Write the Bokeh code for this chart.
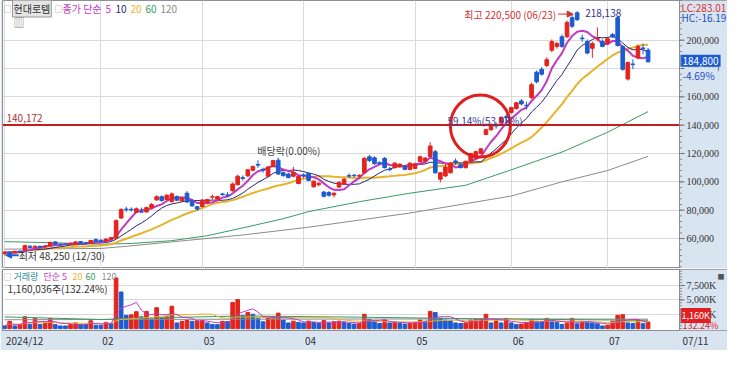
import pandas as pd
from bokeh.plotting import figure
from bokeh.layouts import column
from bokeh.models import (Range1d, FixedTicker, Span, Label, LabelSet, Arrow, NormalHead, Grid,
                          BoxAnnotation, ColumnDataSource)
from bokeh.embed import file_html
from bokeh.resources import INLINE

# ---------------- data ----------------
dates = ["12/30",
         "01/02", "01/03", "01/06", "01/07", "01/08", "01/09", "01/10", "01/13", "01/14", "01/15",
         "01/16", "01/17", "01/20", "01/21", "01/22", "01/23", "01/24", "01/31",
         "02/03", "02/04", "02/05", "02/06", "02/07", "02/10", "02/11", "02/12", "02/13", "02/14",
         "02/17", "02/18", "02/19", "02/20", "02/21", "02/24", "02/25", "02/26", "02/27", "02/28",
         "03/04", "03/05", "03/06", "03/07", "03/10", "03/11", "03/12", "03/13", "03/14", "03/17",
         "03/18", "03/19", "03/20", "03/21", "03/24", "03/25", "03/26", "03/27", "03/28", "03/31",
         "04/01", "04/02", "04/03", "04/04", "04/07", "04/08", "04/09", "04/10", "04/11", "04/14",
         "04/15", "04/16", "04/17", "04/18", "04/21", "04/22", "04/23", "04/24", "04/25", "04/28",
         "04/29", "04/30",
         "05/02", "05/07", "05/08", "05/09", "05/12", "05/13", "05/14", "05/15", "05/16", "05/19",
         "05/20", "05/21", "05/22", "05/23", "05/26", "05/27", "05/28", "05/29", "05/30",
         "06/02", "06/04", "06/05", "06/09", "06/10", "06/11", "06/12", "06/13", "06/16", "06/17",
         "06/18", "06/19", "06/20", "06/23", "06/24", "06/25", "06/26", "06/27", "06/30",
         "07/01", "07/02", "07/03", "07/04", "07/07", "07/08", "07/09", "07/10", "07/11"]

open_ = [49300, 50500, 49800, 51000, 51900, 54600, 53500, 54500, 54000, 54900, 57600, 56000, 56000, 55900, 55800, 57800, 57000, 56600, 59300,
         58800, 58200, 59400, 60300, 74500, 80800, 80600, 78500, 79000, 78800, 81800, 87300, 89500, 87500, 86000, 89500, 86500, 92000, 86500, 82500,
         82500, 85500, 89200, 87800, 91500, 90800, 93800, 98000, 103000, 104200, 108200, 112300, 108800, 104000, 110800, 115300, 106500, 105500, 104000, 98800,
         104800, 106000, 96500, 98000, 92800, 92500, 90800, 96300, 98500, 104500, 104700, 104000, 106400, 117700, 117000, 113500, 116600, 109000, 110000, 110500, 111000, 108700,
         109500, 114300, 114500, 117900, 121300, 101900, 104200, 106400, 114800, 112000, 110000, 114500, 116600, 120000, 133400, 136800, 140000, 141500, 146000,
         149000, 151700, 157100, 154000, 159500, 177400, 179400, 182100, 192900, 195600, 202400, 202400, 215900, 219300, 201500, 199000, 194300, 200800, 199000,
         197600, 204000, 215900, 195600, 172600, 183200, 187500, 194500, 193000]

high = [50800, 51000, 51300, 51800, 55600, 55200, 55000, 55000, 55200, 57800, 58200, 56500, 56600, 57000, 58200, 58300, 57600, 59000, 60000,
        59500, 60000, 61200, 73500, 81500, 82500, 82000, 82000, 81800, 82500, 85000, 90500, 90500, 91500, 92500, 90500, 89500, 93500, 87500, 83000,
        87800, 88000, 91000, 90000, 92300, 92800, 99500, 105000, 104500, 109000, 111500, 115200, 110000, 111000, 115500, 117000, 107500, 106500, 110500, 104500,
        106000, 106500, 101000, 99800, 93500, 93500, 92600, 100500, 102800, 106000, 105500, 105500, 117500, 119000, 118000, 114500, 117500, 110500, 113800, 113000, 112000, 113800,
        113500, 118500, 117500, 128000, 122500, 107000, 112500, 114000, 116500, 113000, 115000, 120500, 122000, 124000, 137500, 141000, 142000, 146000, 148000,
        153000, 156500, 158500, 156500, 170000, 178500, 181000, 188000, 200500, 199000, 204000, 214000, 217900, 220500, 204000, 200500, 199000, 209000, 200500,
        202000, 205000, 216500, 196500, 185000, 186500, 197000, 197500, 194500]

low = [48250, 49200, 49500, 50200, 51500, 53200, 53000, 53600, 53800, 54600, 55600, 55300, 55400, 55700, 55500, 56300, 56200, 56300, 57800,
       57500, 57900, 59000, 60000, 73800, 78800, 79000, 78000, 78500, 78300, 81000, 86500, 86000, 87000, 85500, 86500, 86000, 85000, 82500, 79500,
       82000, 84800, 87500, 87300, 90200, 89800, 93000, 97500, 101000, 103500, 107500, 110000, 106500, 103000, 110300, 104800, 103800, 102500, 103200, 98300,
       102500, 100500, 96000, 96800, 89000, 89500, 89000, 95800, 98000, 102800, 103200, 103000, 106000, 114000, 112000, 112000, 109500, 107500, 109500, 110000, 108200, 108200,
       109000, 113800, 113200, 117500, 105800, 99600, 103500, 106000, 112000, 109500, 109500, 114000, 116000, 119500, 133000, 136000, 137500, 140800, 142500,
       148000, 151000, 154000, 151000, 158500, 169500, 175000, 181000, 191500, 194000, 194500, 201500, 208500, 213500, 199000, 190000, 187500, 199500, 195000,
       196500, 201500, 195500, 178500, 171500, 179500, 186500, 190000, 184000]

close = [50300, 49600, 51000, 50600, 55000, 53600, 54600, 53900, 54800, 57300, 55900, 55700, 55800, 56600, 57600, 56600, 56500, 58600, 58100,
         58000, 59600, 60600, 72600, 80500, 80300, 80200, 81000, 78600, 81800, 84000, 89500, 86800, 90500, 91500, 87000, 88800, 85800, 83000, 80800,
         87000, 87500, 89500, 89600, 91000, 90300, 98500, 104000, 102400, 108500, 110800, 111800, 108200, 110500, 115000, 105500, 104300, 103000, 106500, 104000,
         104300, 101000, 100500, 99000, 89800, 90500, 92000, 99600, 101900, 104000, 104300, 104500, 116600, 115000, 112800, 113000, 110000, 108600, 113200, 112500, 108800, 113200,
         112800, 117700, 116800, 125300, 106400, 106400, 110500, 113200, 114300, 110000, 114500, 120000, 121300, 123300, 136800, 140200, 139400, 145600, 145500,
         152400, 155800, 155000, 153700, 168600, 170600, 176000, 186200, 199000, 197600, 195600, 212500, 209800, 214500, 201000, 190900, 197600, 201200, 195600,
         201000, 202400, 196300, 179400, 184200, 182800, 195600, 193900, 184800]

# volume in thousands of shares
volume_k = [480, 1270, 480, 740, 2060, 740, 1790, 740, 1000, 1790, 740, 480, 470, 740, 1000, 740, 700, 1370, 600,
            600, 1100, 850, 8810, 6380, 2320, 2400, 2950, 2060, 3000, 1690, 3640, 1790, 2060, 3900, 1000, 1270, 1530, 1270, 1370,
            1400, 1000, 740, 700, 1270, 1250, 4540, 5060, 2300, 2800, 2500, 1800, 1200, 2000, 2100, 2700, 1500, 1000, 1300, 1100,
            1000, 1300, 1100, 900, 1400, 1000, 1200, 1300, 1100, 900, 800, 900, 2500, 1600, 1300, 900, 1500, 1000, 1100, 900, 800, 1000,
            1100, 1500, 1300, 3000, 2800, 1800, 1500, 1400, 1000, 900, 1000, 1500, 1600, 1700, 2500, 1000, 1370, 1000, 1790,
            1000, 740, 800, 1000, 1530, 1270, 1250, 1790, 1270, 1110, 740, 1000, 1790, 840, 1270, 1110, 1000, 840, 475,
            580, 1270, 2320, 2430, 1000, 900, 1420, 877, 1160]

# long averages as drawn (they need history before the first candle)
ma60_at = [0, 10, 19, 25, 33, 40, 47, 55, 60, 70, 80, 91, 100, 110, 119, 127]
ma60_val = [57800, 57000, 56000, 56500, 58500, 62000, 67500, 74000, 79000, 86000, 92000, 97600, 108500, 121000, 135000, 149600]
ma120_at = [0, 19, 24, 47, 60, 80, 100, 110, 119, 127]
ma120_val = [52500, 53000, 54500, 62500, 68000, 78000, 90000, 100000, 108000, 118000]
vma60_at = [0, 19, 30, 47, 70, 95, 127]
vma60_val = [2050, 1600, 1900, 2200, 2000, 1700, 1450]
vma120_at = [0, 47, 95, 127]
vma120_val = [1550, 1650, 1700, 1650]

month_start_dates = ["12/30", "02/03", "03/04", "04/01", "05/02", "06/02", "07/01"]
month_labels = ["2024/12", "02", "03", "04", "05", "06", "07"]
last_date_label = "07/11"
price_ticks = [60000, 80000, 100000, 120000, 140000, 160000, 180000, 200000]
volume_ticks_k = [2500, 5000, 7500]
support_level = 140172
record_high_idx = dates.index("06/23")
record_low_idx = dates.index("12/30")
ex_dividend_idx = dates.index("03/27")
ex_dividend_note_level = 122000

# ---------------- styling ----------------
FONT = "Noto Sans CJK KR"
RED = "#e3241d"
BLUE = "#1d5bd1"
PANEL = "#d9e4f1"
GRID = "#dadada"
MAGENTA = "#c23ac2"
NAVY = "#262670"
GOLD = "#e6b42a"
GREEN = "#3a9a62"
GRAY = "#8c8c8c"
TXT = "#333333"
EDGE = "#8f8f8f"
BAR_W = 0.72

n = len(close)
idx = list(range(n))
month_idx = [dates.index(d) for d in month_start_dates]

W = 727
PANEL_W = 48
X0, XP = -0.42, 133.2
PX = (W - 2 - PANEL_W) / (XP - X0)      # pixels per trading day
X_END = XP + PANEL_W / PX
PY0, PY1 = 38850, 228000
VY0, VY1 = -316, 10283

s = pd.Series(close, dtype=float)
ma5 = s.rolling(5, min_periods=1).mean()
ma10 = s.rolling(10, min_periods=1).mean()
ma20 = s.rolling(20, min_periods=1).mean()

colors = [RED if c >= o else BLUE for o, c in zip(open_, close)]
src = ColumnDataSource(dict(x=idx, o=open_, h=high, l=low, c=close,
                            top=[max(o, c) for o, c in zip(open_, close)],
                            bot=[min(o, c) for o, c in zip(open_, close)],
                            color=colors))


def lab(fig, x, y, text, color, size="10px", **kw):
    fig.add_layout(Label(x=x, y=y, text=text, text_color=color, text_font=FONT,
                         text_font_size=size, text_baseline="middle", **kw))


def right_scale(fig, ticks, texts, minor, y0, y1):
    fig.add_layout(BoxAnnotation(left=XP, right=X_END, bottom=y0, top=y1,
                                 fill_color=PANEL, fill_alpha=1, line_alpha=0))
    fig.add_layout(Span(location=XP, dimension="height", line_color=EDGE, line_width=1))
    r1 = fig.segment(x0=[XP] * len(ticks), x1=[XP + 5 / PX] * len(ticks), y0=ticks, y1=ticks,
                     line_color="#666666", line_width=1)
    r2 = fig.segment(x0=[XP] * len(minor), x1=[XP + 2.5 / PX] * len(minor), y0=minor, y1=minor,
                     line_color="#888888", line_width=1)
    r1.level = "overlay"
    r2.level = "overlay"
    fig.add_layout(LabelSet(x="x", y="y", text="t", x_offset=7, text_baseline="middle",
                            text_font=FONT, text_font_size="10px", text_color=TXT,
                            source=ColumnDataSource(dict(x=[XP] * len(ticks), y=ticks, t=texts))))


# ---------------- price pane ----------------
p = figure(width=W, height=268, x_range=Range1d(X0, X_END), y_range=Range1d(PY0, PY1),
           x_axis_type=None, y_axis_type=None, output_backend="svg", toolbar_location=None,
           min_border_left=2, min_border_right=0, min_border_top=0, min_border_bottom=0,
           border_fill_color=PANEL, background_fill_color="white", outline_line_color=EDGE)
p.add_layout(Grid(dimension=1, ticker=FixedTicker(ticks=price_ticks), grid_line_color=GRID))
p.add_layout(Grid(dimension=0, ticker=FixedTicker(ticks=month_idx), grid_line_color=GRID))
p.add_layout(Span(location=support_level, dimension="width", line_color="#c41e1e", line_width=2))

p.line(ma120_at, ma120_val, line_color=GRAY, line_width=1)
p.line(ma60_at, ma60_val, line_color=GREEN, line_width=1)
p.line(idx, ma20, line_color=GOLD, line_width=2)
p.line(idx, ma10, line_color=NAVY, line_width=1)
p.line(idx, ma5, line_color=MAGENTA, line_width=2)

p.segment(x0="x", y0="l", x1="x", y1="h", line_color="color", line_width=1, source=src)
p.vbar(x="x", width=BAR_W, top="top", bottom="bot", fill_color="color", line_color="color", source=src)

circle_x = dates.index("05/23") - 0.1
circle_y = support_level - 800
p.ellipse(x=circle_x, y=circle_y, width=60, height=62, width_units="screen", height_units="screen",
          fill_alpha=0, line_color="#e02020", line_width=3)

# header
lab(p, X0, PY1, "□", "#8a8a8a", size="8px", x_offset=1, y_offset=-8)
lab(p, X0, PY1, "현대로템", TXT, x_offset=10, y_offset=-8, background_fill_color="#e4e4e4",
    border_line_color="#9a9a9a", padding=1)
lab(p, X0, PY1, "□", "#8a8a8a", size="8px", x_offset=52, y_offset=-8)
lab(p, X0, PY1, "종가 단순", MAGENTA, x_offset=60, y_offset=-8)
lab(p, X0, PY1, "5", MAGENTA, x_offset=103, y_offset=-8)
lab(p, X0, PY1, "10", NAVY, x_offset=113, y_offset=-8)
lab(p, X0, PY1, "20", GOLD, x_offset=128, y_offset=-8)
lab(p, X0, PY1, "60", GREEN, x_offset=143, y_offset=-8)
lab(p, X0, PY1, "120", GRAY, x_offset=158, y_offset=-8)
lab(p, X0, PY1, "▥", "#777777", size="11px", x_offset=11, y_offset=-21)

lab(p, X0, support_level, "140,172", "#a83232", x_offset=4, y_offset=7)
lab(p, circle_x, support_level, "59.14%(53.98%)", "#3a3a9a", x_offset=-33, y_offset=4)
lab(p, ex_dividend_idx, ex_dividend_note_level, "배당락(0.00%)", "#444444", x_offset=-31)
hx = record_high_idx
lab(p, hx, high[hx], "최고 220,500 (06/23)", "#d03030", x_offset=-21, y_offset=-3, text_align="right")
p.add_layout(Arrow(end=NormalHead(size=6, fill_color="#d03030", line_color="#d03030"),
                   x_start=hx - 19 / PX, y_start=high[hx] - 2100, x_end=hx - 4 / PX, y_end=high[hx] - 2100,
                   line_color="#d03030", line_width=1))
lab(p, hx, high[hx], "218,138", "#33338a", x_offset=8, y_offset=-2)
lx = record_low_idx
p.add_layout(Arrow(end=NormalHead(size=6, fill_color=BLUE, line_color=BLUE),
                   x_start=lx + 14 / PX, y_start=low[lx], x_end=lx + 1 / PX, y_end=low[lx],
                   line_color=BLUE, line_width=2))
lab(p, lx, low[lx], "최저 48,250 (12/30)", TXT, x_offset=14)

right_scale(p, price_ticks, [f"{t:,}" for t in price_ticks],
            list(range(40000, 228001, 4000)), PY0, PY1)
lab(p, XP, PY1, "LC:283.01", "#d83030", x_offset=2, y_offset=-7)
lab(p, XP, PY1, "HC:-16.19", "#2050c0", x_offset=2, y_offset=-17)
lab(p, XP, close[-1], "184,800", "white", x_offset=1, y_offset=1, background_fill_color=BLUE, padding=2)
lab(p, XP, close[-1], "-4.69% ", "#2050c0", x_offset=2, y_offset=-14,
    background_fill_color=PANEL, padding=1)

# ---------------- volume pane ----------------
v = figure(width=W, height=82, x_range=p.x_range, y_range=Range1d(VY0, VY1),
           y_axis_type=None, output_backend="svg", toolbar_location=None,
           min_border_left=2, min_border_right=0, min_border_top=1, min_border_bottom=0,
           border_fill_color=PANEL, background_fill_color="white", outline_line_color=EDGE)
v.add_layout(Grid(dimension=1, ticker=FixedTicker(ticks=volume_ticks_k), grid_line_color=GRID))
v.add_layout(Grid(dimension=0, ticker=FixedTicker(ticks=month_idx), grid_line_color=GRID))

vcol = [BLUE] + [RED if volume_k[i] > volume_k[i - 1] else BLUE for i in range(1, n)]
v.vbar(x=idx, width=BAR_W, top=volume_k, bottom=0, fill_color=vcol, line_color=vcol)
vs = pd.Series(volume_k, dtype=float)
v.line(vma120_at, vma120_val, line_color=GRAY, line_width=1)
v.line(vma60_at, vma60_val, line_color=GREEN, line_width=1)
v.line(idx, vs.rolling(20, min_periods=1).mean(), line_color=GOLD, line_width=1)
v.line(idx, vs.rolling(5, min_periods=1).mean(), line_color=MAGENTA, line_width=1)

# date axis: labels sit just right of each month line
label_shift = [20 / PX] + [7 / PX] * (len(month_idx) - 1)
tick_pos = [round(m + s_, 3) for m, s_ in zip(month_idx, label_shift)]
last_pos = round(XP + 16 / PX, 3)
xax = v.xaxis[0]
xax.ticker = FixedTicker(ticks=tick_pos + [last_pos])
overrides = {t: lbl for t, lbl in zip(tick_pos, month_labels)}
overrides[last_pos] = last_date_label
xax.major_label_overrides = overrides
xax.major_label_text_font = FONT
xax.major_label_text_font_size = "10px"
xax.major_label_text_color = TXT
xax.axis_line_color = EDGE
xax.major_tick_in = 0
xax.major_tick_out = 0
xax.minor_tick_out = 0
xax.major_label_standoff = 2
v.xgrid.visible = False

lab(v, X0, VY1, "□", "#8a8a8a", size="8px", x_offset=1, y_offset=-7)
lab(v, X0, VY1, "거래량", "#2a8a9a", size="9px", x_offset=11, y_offset=-7)
lab(v, X0, VY1, "단순 5", MAGENTA, size="9px", x_offset=41, y_offset=-7)
lab(v, X0, VY1, "20", GOLD, size="9px", x_offset=70, y_offset=-7)
lab(v, X0, VY1, "60", GREEN, size="9px", x_offset=83, y_offset=-7)
lab(v, X0, VY1, "120", GRAY, size="9px", x_offset=99, y_offset=-7)
lab(v, X0, VY1, "1,160,036주(132.24%)", TXT, x_offset=5, y_offset=-19)

right_scale(v, volume_ticks_k, [f"{t:,}K" for t in volume_ticks_k],
            list(range(0, 10001, 500)), VY0, VY1)
lab(v, XP, VY1, "■", "#555555", size="7px", x_offset=38, y_offset=-6)
lab(v, XP, VY0, "1,160K", "white", size="9px", x_offset=1, y_offset=15,
    background_fill_color="#e02020", padding=1)
lab(v, XP, VY0, "132.24%", "#e02020", size="9px", x_offset=3, y_offset=5)

layout = column(p, v, spacing=0)
open("out.html", "w").write(file_html(layout, INLINE))
